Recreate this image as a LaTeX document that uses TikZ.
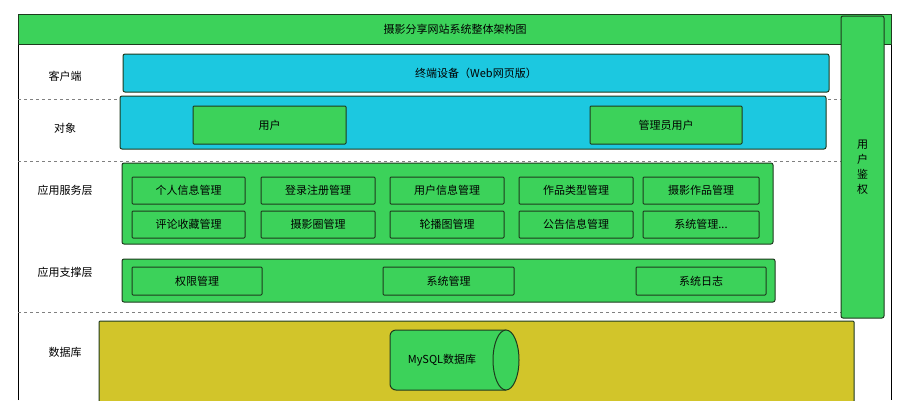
\documentclass[tikz,border=0pt]{standalone}
\usepackage{fontspec}
\setmainfont{Noto Sans CJK SC}
\definecolor{gr}{HTML}{3CD25A}
\definecolor{cy}{HTML}{1CC8E0}
\definecolor{ye}{HTML}{D2C52A}
\definecolor{dk}{HTML}{1E3A1E}
\begin{document}
\begin{tikzpicture}[x=1pt,y=-1pt,font=\fontsize{11}{13}\selectfont,
 band/.style={draw=dk,line width=1pt,rounded corners=2pt},
 item/.style={draw=dk,line width=1pt,fill=gr,rounded corners=1pt},
 sep/.style={gray,dashed,line width=0.8pt}]
\useasboundingbox (0,0) rectangle (912,400);
\fill[white] (0,0) rectangle (912,400);
% frame
\draw[line width=1pt] (18,400) -- (18,14) -- (891,14) -- (891,400);
\node[draw=dk,line width=1pt,fill=gr,minimum width=873pt,minimum height=30pt,anchor=north west,inner sep=0] (title) at (18,14) {摄影分享网站系统整体架构图};
% separators
\draw[sep] (18,99) -- (841,99);
\draw[sep] (18,161) -- (841,161);
\draw[sep] (18,312) -- (841,312);
% right auth
\draw[band,fill=gr] (841,16) rectangle (884,318);
\node[align=center,font=\fontsize{11}{15}\selectfont] (auth) at (862.5,167) {用\\户\\鉴\\权};
% labels
\node (l1) at (65,76) {客户端};
\node (l2) at (65,128) {对象};
\node (l3) at (65,190) {应用服务层};
\node (l4) at (65,272) {应用支撑层};
\node (l5) at (65,352) {数据库};
% client
\draw[band,fill=cy] (123,54) rectangle (829,92);
\node (term) at (476,73) {终端设备（Web网页版）};
% object
\draw[band,fill=cy] (120,96) rectangle (826,149);
\draw[item] (193,106) rectangle node (u) {用户} (346,144);
\draw[item] (590,106) rectangle node (adm) {管理员用户} (742,144);
% service
\draw[band,fill=gr] (122,163) rectangle (773,244);
\foreach \a/\b/\t/\s [count=\i] in {132/245/{个人信息管理}/{评论收藏管理},261/375/{登录注册管理}/{摄影圈管理},390/504/{用户信息管理}/{轮播图管理},519/633/{作品类型管理}/{公告信息管理},643/759/{摄影作品管理}/{系统管理{.}{.}{.}}}{
 \draw[item] (\a,177) rectangle node (s\i) {\t} (\b,204);
 \draw[item] (\a,211) rectangle node (r\i) {\s} (\b,238);
}
% support
\draw[band,fill=gr] (122,259) rectangle (775,302);
\draw[item] (132,267) rectangle node (p1) {权限管理} (262,295);
\draw[item] (383,267) rectangle node (p2) {系统管理} (514,295);
\draw[item] (636,267) rectangle node (p3) {系统日志} (766,295);
% db
\draw[band,fill=ye,rounded corners=1pt] (99,321) rectangle (854,402);
\draw[draw=dk,line width=1pt,fill=gr,rounded corners=6pt] (506,330) -- (390,330) -- (390,390) -- (506,390);
\fill[gr] (400,331) rectangle (506,389);
\draw[draw=dk,line width=1pt,fill=gr] (506,360) ellipse [x radius=13pt,y radius=30pt];
\node (db) at (442,360) {MySQL数据库};
\end{tikzpicture}
\end{document}
